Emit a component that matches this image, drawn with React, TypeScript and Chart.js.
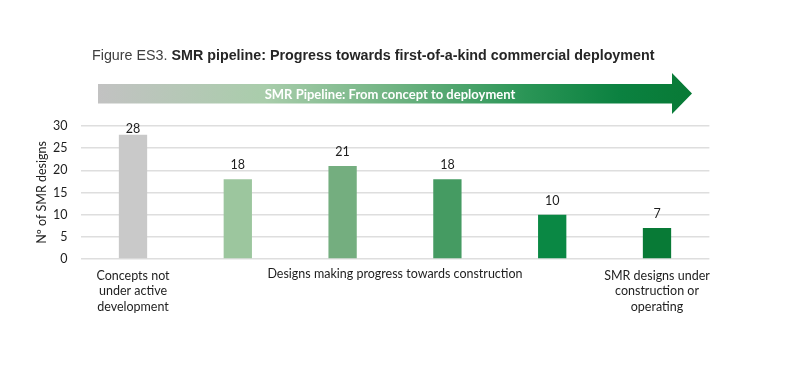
import React, { useEffect, useRef } from "react";
import { Chart, registerables } from "chart.js";
Chart.register(...registerables);

const categories: (string | string[])[] = [
  ["Concepts not", "under active", "development"],
  "",
  "",
  "",
  "",
  ["SMR designs under", "construction or", "operating"],
];
const values = [28, 18, 21, 18, 10, 7];
const barColors = ["#c9c9c9", "#9cc69e", "#74ae7f", "#459b62", "#0a8844", "#087a36"];
const yMin = 0;
const yMax = 30;
const yStep = 5;
const groupLabel = "Designs making progress towards construction";
const groupFrom = 2;
const groupTo = 3;
const yTitle = "Nº of SMR designs";
const figurePrefix = "Figure ES3. ";
const figureTitle = "SMR pipeline: Progress towards first-of-a-kind commercial deployment";
const arrowText = "SMR Pipeline: From concept to deployment";

const FONT = "Lato, 'Open Sans', sans-serif";
const TICK_PAD = 9;

const labelsPlugin = {
  id: "extraLabels",
  afterDatasetsDraw(chart: any) {
    const ctx = chart.ctx;
    const area = chart.chartArea;
    const meta = chart.getDatasetMeta(0);
    ctx.save();
    ctx.font = `12.5px ${FONT}`;
    ctx.fillStyle = "#1e1e1e";
    ctx.textAlign = "center";
    ctx.textBaseline = "middle";
    meta.data.forEach((el: any, i: number) => {
      const y = Math.max(el.y - 14, area.top + 3);
      ctx.fillText(String(values[i]), el.x, y);
    });
    const xs = chart.scales.x;
    const cx = (xs.getPixelForValue(groupFrom) + xs.getPixelForValue(groupTo)) / 2;
    ctx.textBaseline = "top";
    ctx.fillText(groupLabel, cx, area.bottom + TICK_PAD);
    ctx.restore();
  },
};

function App() {
  const ref = useRef<HTMLCanvasElement>(null);
  useEffect(() => {
    const chart = new Chart(ref.current as HTMLCanvasElement, {
      type: "bar",
      data: {
        labels: categories,
        datasets: [
          {
            data: values,
            backgroundColor: barColors,
            barPercentage: 0.27,
            categoryPercentage: 1,
          },
        ],
      },
      options: {
        animation: false,
        responsive: false,
        devicePixelRatio: 1,
        layout: { padding: { left: 30.6, right: 83.6, top: 126, bottom: 47 } },
        plugins: { legend: { display: false }, tooltip: { enabled: false } },
        scales: {
          x: {
            grid: { display: false, drawTicks: false },
            border: { display: false },
            ticks: {
              color: "#1e1e1e",
              font: { family: FONT, size: 12.5, lineHeight: 1.25 },
              padding: TICK_PAD,
              maxRotation: 0,
              autoSkip: false,
            },
            afterFit(scale: any) {
              scale.height = 60;
            },
          },
          y: {
            min: yMin,
            max: yMax,
            ticks: {
              stepSize: yStep,
              color: "#1e1e1e",
              font: { family: FONT, size: 12.5 },
              padding: 13,
            },
            grid: { color: "#dedede", lineWidth: 1.5, drawTicks: false },
            border: { display: false },
            title: {
              display: true,
              text: yTitle,
              color: "#1e1e1e",
              font: { family: FONT, size: 12.5 },
              padding: { top: 4, bottom: 0 },
            },
            afterFit(scale: any) {
              scale.width = 50;
            },
          },
        },
      },
      plugins: [labelsPlugin],
    });
    return () => chart.destroy();
  }, []);

  return (
    <div style={{ position: "absolute", left: 0, top: 0, width: 793, height: 366, background: "#fff", overflow: "hidden" }}>
      <canvas ref={ref} width={793} height={366} style={{ position: "absolute", left: 0, top: 0 }} />
      <div
        style={{
          position: "absolute",
          left: 92,
          top: 47,
          fontFamily: "'Liberation Sans', Arial, sans-serif",
          fontSize: 14.3,
          lineHeight: "17px",
          color: "#404040",
          whiteSpace: "nowrap",
        }}
      >
        {figurePrefix}
        <b style={{ color: "#262626" }}>{figureTitle}</b>
      </div>
      <div
        style={{
          position: "absolute",
          left: 98,
          top: 73,
          width: 594,
          height: 41,
          background: "linear-gradient(to right, #c2c2c2 0%, #a9cdab 28%, #6fb382 50%, #2a9556 72%, #0b8140 88%, #087a36 100%)",
          clipPath: "polygon(0px 11px, 574px 11px, 574px 0px, 594px 20.5px, 574px 41px, 574px 30.5px, 0px 30.5px)",
        }}
      />
      <div
        style={{
          position: "absolute",
          left: 98,
          top: 84,
          width: 584,
          height: 20,
          lineHeight: "20px",
          fontFamily: FONT,
          fontWeight: 700,
          fontSize: 13,
          color: "#ffffff",
          whiteSpace: "nowrap",
        }}
      >
        <span style={{ position: "absolute", left: 292, transform: "translateX(-50%)" }}>{arrowText}</span>
      </div>
    </div>
  );
}

export default App;
